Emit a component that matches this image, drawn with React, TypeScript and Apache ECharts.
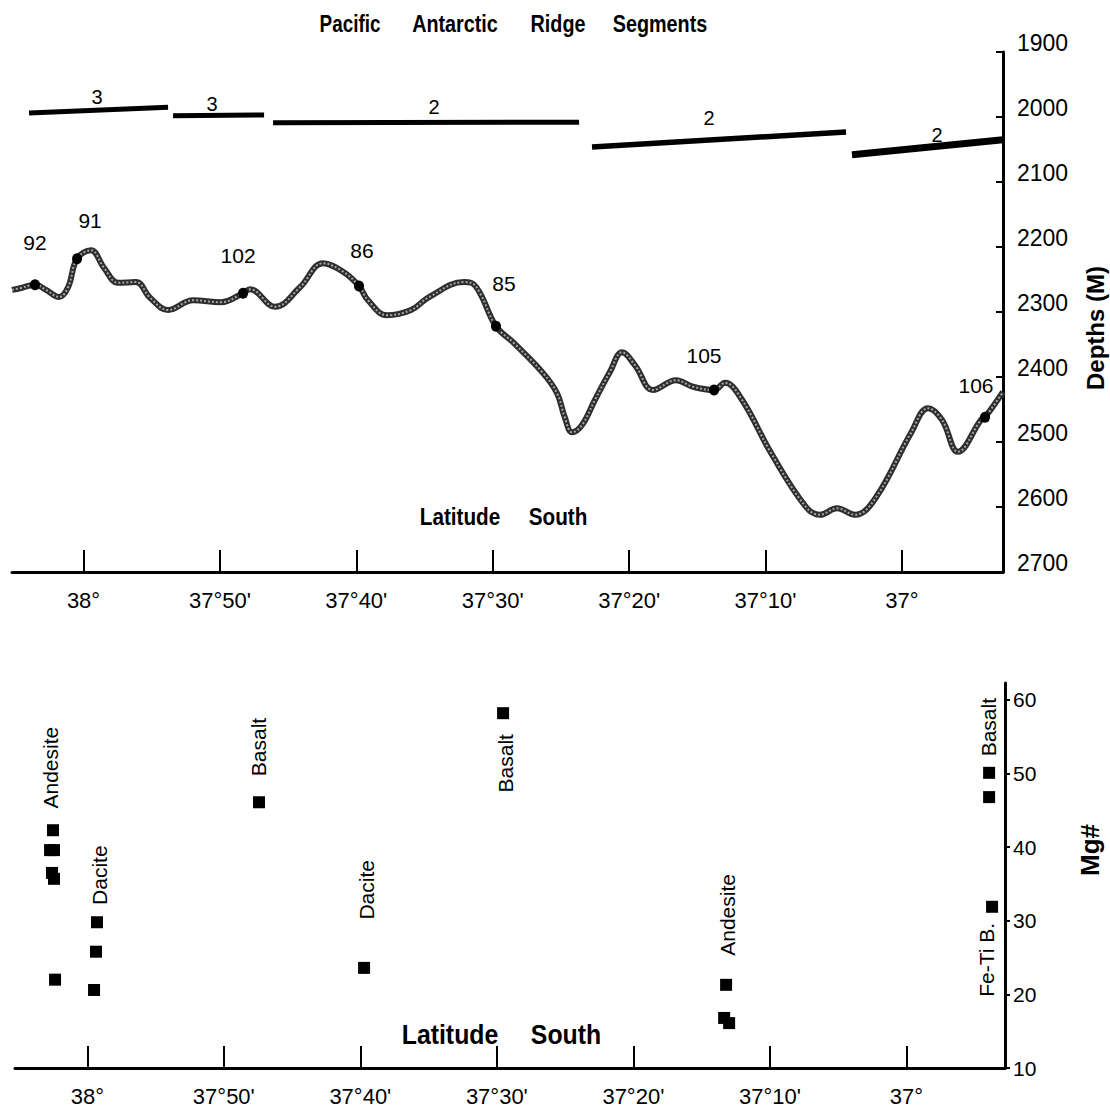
import { useEffect, useRef } from 'react';
import * as echarts from 'echarts';

// Bathymetric profile along the ridge axis: latitude (decimal degrees S) and depth (m)
const profileLat = [
  38.0874, 38.0764, 38.0593, 38.0458, 38.0299, 38.0189, 38.0079, 37.9908, 37.975, 37.9578,
  37.9359, 37.9187, 37.8967, 37.8662, 37.832, 37.8051, 37.7966, 37.766, 37.7355, 37.7074,
  37.6829, 37.6634, 37.6524, 37.6292, 37.5998, 37.5778, 37.5351, 37.5265, 37.5155, 37.496,
  37.474, 37.4385, 37.4214, 37.4117, 37.4031, 37.3909, 37.375, 37.3567, 37.342, 37.3261,
  37.3041, 37.276, 37.2553, 37.2296, 37.2162, 37.1954, 37.1599, 37.1172, 37.1001, 37.0793,
  37.0573, 37.0316, 36.9889, 36.9681, 36.951, 36.9315, 36.9034, 36.8985, 36.8765,
];
const profileDepth = [
  2266, 2263, 2258, 2266, 2277, 2262, 2218, 2205, 2232, 2255,
  2254, 2278, 2297, 2282, 2285, 2271, 2265, 2292, 2262, 2225,
  2238, 2260, 2282, 2305, 2297, 2277, 2254, 2255, 2271, 2322,
  2348, 2394, 2425, 2463, 2485, 2474, 2435, 2392, 2362, 2382,
  2420, 2405, 2415, 2420, 2409, 2435, 2517, 2600, 2612, 2602,
  2612, 2585, 2486, 2448, 2466, 2515, 2466, 2462, 2423,
];

// Dredge stations on the profile
const stationIds = ['92', '91', '102', '86', '85', '105', '106'];
const stationLat = [38.0593, 38.0079, 37.8051, 37.6634, 37.496, 37.2296, 36.8985];
const stationDepth = [2258, 2218, 2271, 2260, 2322, 2420, 2462];
const stationLabelOffset = [[0, -42], [13, -38], [-5, -38], [3, -36], [8, -43], [-10, -35], [-9, -32]];

// Ridge segments (order number, extent in latitude, drawn at a nominal depth)
const segmentOrder = ['3', '3', '2', '2', '2'];
const segmentStartLat = [38.0666, 37.8906, 37.7684, 37.3787, 37.061];
const segmentEndLat = [37.8967, 37.7794, 37.3945, 37.0683, 36.8765];
const segmentStartDepth = [1994, 1998, 2009, 2046, 2058];
const segmentEndDepth = [1985, 1997, 2008, 2023, 2035];
const segmentLabelLat = [37.9835, 37.843, 37.5717, 37.2357, 36.9571];
const segmentLabelDepth = [1969, 1980, 1985, 2001, 2028];
const segmentWidth = [5, 5, 5, 5.5, 7];

// Mg# of the recovered lavas
const lavaLat = [
  38.0419, 38.0455, 38.0407, 38.0431, 38.0407, 38.0394,
  37.9882, 37.9894, 37.9918,
  37.7904, 37.6621, 37.4924,
  37.2201, 37.2225, 37.2164,
  36.899, 36.899, 36.8954,
];
const lavaMg = [
  42.3, 39.6, 39.6, 36.5, 35.7, 22.0,
  29.8, 25.8, 20.6,
  46.1, 23.6, 58.2,
  21.3, 16.8, 16.1,
  50.1, 46.8, 31.9,
];

// Rock type annotations
const rockTypeNames = ['Andesite', 'Dacite', 'Basalt', 'Dacite', 'Basalt', 'Andesite', 'Basalt', 'Fe-Ti B.'];
const rockTypeLat = [38.0455, 37.9857, 37.7916, 37.6597, 37.4899, 37.2189, 36.9003, 36.9027];
const rockTypeMg = [50.8, 36.2, 53.6, 34.2, 51.4, 30.8, 56.3, 24.7];

// Axis ticks
const latTicks = [[38, 0], [37, 50], [37, 40], [37, 30], [37, 20], [37, 10], [37, 0]];
const mgTicks = [10, 20, 30, 40, 50, 60];

const FONT = '"Liberation Sans", Arial, Helvetica, sans-serif';

const latTickValues = latTicks.map(([d, m]) => d + m / 60);

const fmtLat = (v: number) => {
  const total = Math.round(v * 60);
  const d = Math.floor(total / 60);
  const m = total - d * 60;
  return m === 0 ? `${d}°` : `${d}°${m}'`;
};

const latAxis = (gridIndex: number, min: number, max: number) => ({
  gridIndex,
  type: 'value',
  inverse: true,
  min,
  max,
  axisLine: { show: true, onZero: false, lineStyle: { color: '#000', width: 3 } },
  axisTick: { show: true, inside: true, length: 22, customValues: latTickValues, lineStyle: { color: '#000', width: 2 } },
  axisLabel: {
    customValues: latTickValues,
    formatter: fmtLat,
    margin: 17,
    fontSize: 22,
    fontFamily: FONT,
    color: '#000',
  },
  splitLine: { show: false },
});

function buildOption() {
  const profile = profileLat.map((x, i) => [x, profileDepth[i]]);

  const segmentSeries = segmentOrder.map((_, i) => ({
    type: 'line',
    xAxisIndex: 0,
    yAxisIndex: 0,
    data: [
      [segmentStartLat[i], segmentStartDepth[i]],
      [segmentEndLat[i], segmentEndDepth[i]],
    ],
    showSymbol: false,
    symbol: 'none',
    lineStyle: { color: '#000', width: segmentWidth[i] },
    z: 4,
  }));

  // Centred text, optionally condensed horizontally and/or rotated
  const text = (t: string, x: number, y: number, size: number, scaleX = 1, rotation = 0) => ({
    type: 'text',
    x,
    y,
    rotation,
    scaleX: rotation ? 1 : scaleX,
    scaleY: rotation ? scaleX : 1,
    style: {
      text: t,
      fontSize: size,
      fontWeight: 'bold',
      fontFamily: FONT,
      fill: '#000',
      align: 'center',
      verticalAlign: 'middle',
    },
  });

  return {
    animation: false,
    backgroundColor: '#fff',
    textStyle: { fontFamily: FONT, color: '#000' },
    grid: [
      { left: 12, right: 107, top: 52, bottom: 538 },
      { left: 15, right: 105, top: 683, bottom: 42 },
    ],
    xAxis: [latAxis(0, 36.8765, 38.0874), latAxis(1, 36.8796, 38.0883)],
    yAxis: [
      {
        gridIndex: 0,
        type: 'value',
        position: 'right',
        inverse: true,
        min: 1900,
        max: 2700,
        interval: 100,
        axisLine: { show: true, onZero: false, lineStyle: { color: '#000', width: 3 } },
        axisTick: { show: true, inside: true, length: 7, lineStyle: { color: '#000', width: 2 } },
        axisLabel: {
          formatter: (v: number) => String(v),
          margin: 14,
          fontSize: 23,
          fontFamily: FONT,
          color: '#000',
          verticalAlign: 'bottom',
          lineHeight: 18,
        },
        splitLine: { show: false },
      },
      {
        gridIndex: 1,
        type: 'value',
        position: 'right',
        min: 10,
        max: 62.3,
        axisLine: { show: true, onZero: false, lineStyle: { color: '#000', width: 3 } },
        axisTick: { show: true, inside: false, length: 5, customValues: mgTicks, lineStyle: { color: '#000', width: 2 } },
        axisLabel: {
          customValues: mgTicks,
          formatter: (v: number) => String(v),
          margin: 8,
          fontSize: 21,
          fontFamily: FONT,
          color: '#000',
        },
        splitLine: { show: false },
      },
    ],
    series: [
      {
        type: 'line',
        xAxisIndex: 0,
        yAxisIndex: 0,
        data: profile,
        smooth: 0.4,
        showSymbol: false,
        symbol: 'none',
        lineStyle: { color: '#2e2e2e', width: 6 },
        z: 2,
      },
      {
        type: 'line',
        xAxisIndex: 0,
        yAxisIndex: 0,
        data: profile,
        smooth: 0.4,
        showSymbol: false,
        symbol: 'none',
        lineStyle: { color: '#a6a6a6', width: 2, type: [2, 2] },
        z: 3,
      },
      {
        type: 'scatter',
        xAxisIndex: 0,
        yAxisIndex: 0,
        symbol: 'circle',
        symbolSize: [10, 11],
        itemStyle: { color: '#000', opacity: 1 },
        z: 5,
        data: stationIds.map((id, i) => ({
          name: id,
          value: [stationLat[i], stationDepth[i]],
          label: { offset: stationLabelOffset[i] },
        })),
        label: {
          show: true,
          position: 'inside',
          formatter: '{b}',
          fontSize: 21,
          fontFamily: FONT,
          color: '#000',
        },
      },
      ...segmentSeries,
      {
        type: 'scatter',
        xAxisIndex: 0,
        yAxisIndex: 0,
        symbolSize: 0,
        itemStyle: { opacity: 1 },
        data: segmentOrder.map((o, i) => ({ name: o, value: [segmentLabelLat[i], segmentLabelDepth[i]] })),
        label: {
          show: true,
          position: 'inside',
          formatter: '{b}',
          fontSize: 20,
          fontFamily: FONT,
          color: '#000',
        },
        z: 5,
      },
      {
        type: 'scatter',
        xAxisIndex: 1,
        yAxisIndex: 1,
        symbol: 'rect',
        symbolSize: 12,
        itemStyle: { color: '#000', opacity: 1 },
        data: lavaLat.map((x, i) => [x, lavaMg[i]]),
        z: 4,
      },
      {
        type: 'scatter',
        xAxisIndex: 1,
        yAxisIndex: 1,
        symbolSize: 0,
        itemStyle: { opacity: 1 },
        data: rockTypeNames.map((n, i) => ({ name: n, value: [rockTypeLat[i], rockTypeMg[i]] })),
        label: {
          show: true,
          position: 'inside',
          formatter: '{b}',
          rotate: 90,
          fontSize: 21,
          fontFamily: FONT,
          color: '#000',
        },
        z: 5,
      },
    ],
    graphic: [
      text('Pacific', 350, 24, 23, 0.82),
      text('Antarctic', 455, 24, 23, 0.86),
      text('Ridge', 558, 24, 23, 0.86),
      text('Segments', 660, 24, 23, 0.86),
      text('Latitude', 460, 517, 23, 0.9),
      text('South', 558, 517, 23, 0.9),
      text('Latitude', 450, 1035, 27, 0.92),
      text('South', 566, 1035, 27, 0.92),
      text('Depths (M)', 1095, 328, 24, 1, Math.PI / 2),
      text('Mg#', 1090, 850, 26, 1, Math.PI / 2),
    ],
  };
}

export default function App() {
  const ref = useRef<HTMLDivElement>(null);
  useEffect(() => {
    if (!ref.current) return;
    const chart = echarts.init(ref.current, null, { renderer: 'svg' });
    chart.setOption(buildOption() as any);
    return () => chart.dispose();
  }, []);
  return (
    <div
      ref={ref}
      style={{ position: 'fixed', left: 0, top: 0, width: 1110, height: 1110, background: '#fff' }}
    />
  );
}
